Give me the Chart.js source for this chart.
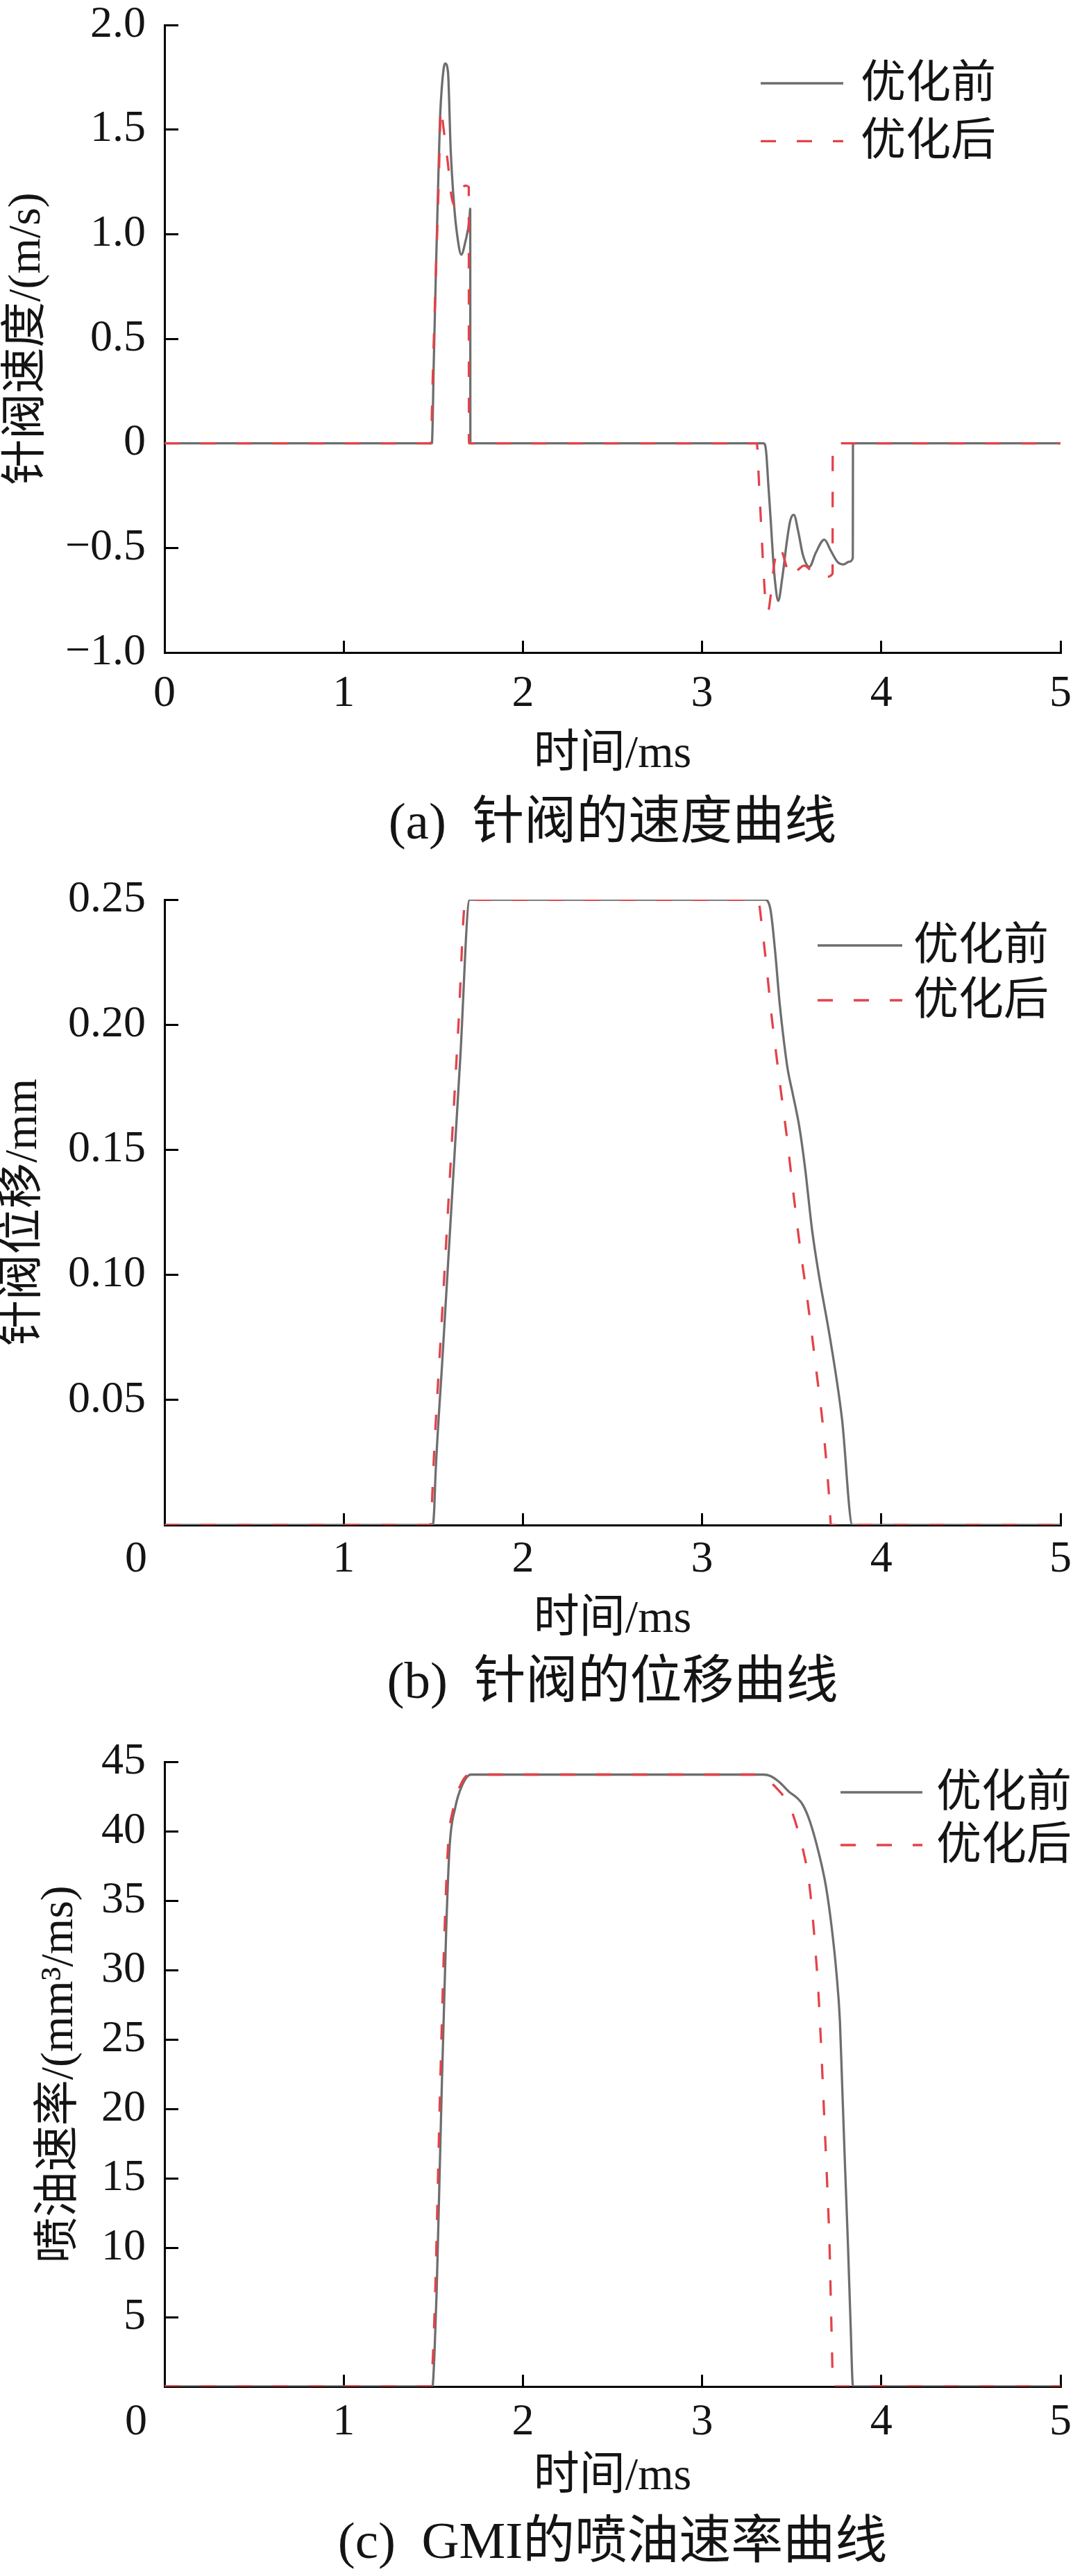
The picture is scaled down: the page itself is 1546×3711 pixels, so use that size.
<!DOCTYPE html>
<html lang="zh-CN">
<head>
<meta charset="utf-8">
<title>针阀速度、位移与喷油速率曲线</title>
<script src="https://cdn.jsdelivr.net/npm/chart.js@4.4.1/dist/chart.umd.min.js"></script>
<style>
  html, body { margin: 0; padding: 0; background: #fff; }
  .panel { position: absolute; left: 0; width: 1546px; }
  #panelA { top: 0; height: 1240px; }
  #panelB { top: 1240px; height: 1235px; }
  #panelC { top: 2475px; height: 1236px; }
</style>
</head>
<body>
<div class="panel" id="panelA"><canvas id="speedChart"></canvas></div>
<div class="panel" id="panelB"><canvas id="liftChart"></canvas></div>
<div class="panel" id="panelC"><canvas id="rateChart"></canvas></div>

<script>
// Series names (legend)
const seriesNames = ['优化前', '优化后'];

// Shared time axis (ms)
const timeTickValues = [0, 1, 2, 3, 4, 5];
const timeTickLabels = ['0', '1', '2', '3', '4', '5'];
const timeTickLabelsNoOrigin = ['', '1', '2', '3', '4', '5'];

// (a) needle valve speed, m/s
const speedTickValues = [-1, -0.5, 0, 0.5, 1, 1.5, 2];
const speedTickLabels = ['\u22121.0', '\u22120.5', '0', '0.5', '1.0', '1.5', '2.0'];
const speedTimeBefore = [0, 1.492, 1.503, 1.514, 1.526, 1.537, 1.552, 1.566, 1.582, 1.597, 1.617, 1.634, 1.656, 1.679, 1.702, 1.706, 1.707,
  3.344, 3.357, 3.370, 3.383, 3.395, 3.408, 3.425, 3.447, 3.473, 3.492, 3.512, 3.537, 3.563, 3.599, 3.634, 3.682, 3.718, 3.757, 3.789, 3.821, 3.841, 3.842, 5];
const speedBefore = [0, 0, 0.40, 0.80, 1.20, 1.54, 1.747, 1.816, 1.775, 1.404, 1.129, 0.991, 0.902, 0.964, 1.074, 1.122, 0,
  0, -0.037, -0.203, -0.369, -0.535, -0.668, -0.753, -0.646, -0.469, -0.369, -0.342, -0.424, -0.535, -0.590, -0.524, -0.460, -0.513, -0.568, -0.579, -0.566, -0.548, 0, 0];
const speedTimeAfter = [0, 1.485, 1.500, 1.515, 1.530, 1.543, 1.556, 1.582, 1.601, 1.621, 1.653, 1.679, 1.698, 1.699,
  3.305, 3.318, 3.330, 3.342, 3.354, 3.367, 3.385, 3.402, 3.428, 3.453, 3.473, 3.499, 3.535, 3.570, 3.610, 3.654, 3.695, 3.728, 3.729, 5];
const speedAfter = [0, 0, 0.41, 0.83, 1.24, 1.603, 1.514, 1.335, 1.184, 1.136, 1.204, 1.232, 1.225, 0,
  0, -0.20, -0.40, -0.60, -0.756, -0.806, -0.712, -0.579, -0.491, -0.535, -0.596, -0.640, -0.605, -0.585, -0.610, -0.640, -0.638, -0.623, 0, 0];

// (b) needle valve lift, mm
const liftTickValues = [0, 0.05, 0.10, 0.15, 0.20, 0.25];
const liftTickLabels = ['', '0.05', '0.10', '0.15', '0.20', '0.25'];
const liftTimeBefore = [0, 1.497, 1.505, 1.512, 1.55, 1.60, 1.65, 1.703,
  3.349, 3.381, 3.407, 3.433, 3.459, 3.478, 3.504, 3.543, 3.575, 3.614, 3.652, 3.717, 3.781, 3.839, 5];
const liftBefore = [0, 0, 0.006, 0.0195, 0.0654, 0.1258, 0.186, 0.25,
  0.25, 0.2462, 0.2297, 0.2084, 0.1919, 0.182, 0.173, 0.159, 0.1425, 0.1178, 0.0998, 0.0734, 0.0422, 0, 0];
const liftTimeAfter = [0, 1.483, 1.492, 1.500, 1.55, 1.60, 1.64, 1.680,
  3.311, 3.336, 3.362, 3.388, 3.413, 3.439, 3.472, 3.504, 3.543, 3.588, 3.640, 3.678, 3.711, 3.719, 5];
const liftAfter = [0, 0, 0.008, 0.022, 0.0853, 0.1487, 0.1993, 0.25,
  0.25, 0.238, 0.2215, 0.2034, 0.1886, 0.1738, 0.1557, 0.136, 0.113, 0.0899, 0.0602, 0.0372, 0.0092, 0, 0];

// (c) GMI injection rate, mm³/ms
const rateTickValues = [0, 5, 10, 15, 20, 25, 30, 35, 40, 45];
const rateTickLabels = ['', '5', '10', '15', '20', '25', '30', '35', '40', '45'];
const rateTimeBefore = [0, 1.495, 1.507, 1.519, 1.546, 1.572, 1.591, 1.622, 1.66, 1.71,
  3.343, 3.381, 3.433, 3.485, 3.530, 3.562, 3.601, 3.652, 3.691, 3.723, 3.749, 3.769, 3.781, 3.797, 3.814, 3.829, 3.842, 5];
const rateBefore = [0, 0, 2.5, 6.96, 20.9, 32.9, 38.9, 41.7, 43.3, 44.1,
  44.1, 44.0, 43.54, 42.86, 42.42, 41.92, 40.75, 38.4, 36.05, 33.1, 29.9, 26.35, 21.95, 16.07, 10.2, 4.32, 0, 0];
const rateTimeAfter = [0, 1.487, 1.499, 1.511, 1.537, 1.563, 1.582, 1.612, 1.65, 1.70,
  3.33, 3.36, 3.407, 3.472, 3.504, 3.536, 3.568, 3.594, 3.614, 3.633, 3.649, 3.665, 3.681, 3.698, 3.711, 3.719, 3.727, 3.729, 5];
const rateAfter = [0, 0, 2.5, 6.96, 20.9, 32.9, 38.9, 41.7, 43.3, 44.1,
  44.1, 43.8, 43.24, 42.21, 41.33, 40.01, 38.4, 36.64, 34.28, 31.35, 28.41, 24.3, 19.6, 14.6, 10.2, 5.79, 1.39, 0, 0];

// Look and feel
const FONT = '"Liberation Serif", "Noto Sans CJK SC", serif';
const TEXT = '#141414';
const GRAY = '#6e6e6e';
const RED = '#e2434a';

const toPoints = (xs, ys) => xs.map((x, i) => ({ x: x, y: ys[i] }));

// Legend (line sample + name) inside the plot, plus the lone "0" under the corner
const panelDecor = {
  id: 'panelDecor',
  afterDraw(chart, args, opts) {
    const { ctx, chartArea } = chart;
    ctx.save();
    chart.data.datasets.forEach((ds, i) => {
      const y = chartArea.top + opts.keyTop + i * opts.keyGap;
      const x0 = chartArea.right - opts.keyRight;
      ctx.strokeStyle = ds.borderColor;
      ctx.lineWidth = ds.borderWidth;
      ctx.setLineDash(ds.borderDash || []);
      ctx.beginPath();
      ctx.moveTo(x0, y);
      ctx.lineTo(x0 + opts.keyLength, y);
      ctx.stroke();
      ctx.setLineDash([]);
      ctx.fillStyle = TEXT;
      ctx.font = '65px ' + FONT;
      ctx.textAlign = 'left';
      ctx.textBaseline = 'middle';
      ctx.fillText(ds.label, x0 + opts.keyLength + opts.keyTextGap, y + 3);
    });
    if (opts.originLabel) {
      ctx.fillStyle = TEXT;
      ctx.font = '64px ' + FONT;
      ctx.textAlign = 'center';
      ctx.textBaseline = 'middle';
      ctx.fillText(opts.originLabel, chart.scales.x.getPixelForValue(0) + opts.originDx, chartArea.bottom + opts.originDy);
    }
    ctx.restore();
  }
};

function makePanel(canvasId, p) {
  return new Chart(document.getElementById(canvasId), {
    type: 'line',
    data: {
      datasets: [
        {
          label: seriesNames[0],
          data: toPoints(p.timeBefore, p.before),
          borderColor: GRAY,
          borderWidth: 3.3,
          pointRadius: 0,
          cubicInterpolationMode: 'monotone',
          order: 1
        },
        {
          label: seriesNames[1],
          data: toPoints(p.timeAfter, p.after),
          borderColor: RED,
          borderWidth: 3.3,
          borderDash: [22, 30],
          pointRadius: 0,
          cubicInterpolationMode: 'monotone',
          order: 0
        }
      ]
    },
    options: {
      responsive: true,
      maintainAspectRatio: false,
      animation: false,
      devicePixelRatio: 1,
      events: [],
      layout: { padding: { top: p.padTop, right: 18, bottom: 0, left: 0 } },
      scales: {
        x: {
          type: 'linear',
          min: 0,
          max: 5,
          afterBuildTicks: axis => { axis.ticks = timeTickValues.map(v => ({ value: v })); },
          // fixed height; label overflow only needs half a digit on the right
          afterFit: axis => { axis.height = p.xAxisHeight; axis.paddingLeft = 0; axis.paddingRight = 18; },
          ticks: {
            autoSkip: false,
            maxRotation: 0,
            minRotation: 0,
            padding: p.xTickPad,
            color: TEXT,
            font: { family: FONT, size: 64, lineHeight: 1 },
            callback: (value, index) => p.xLabels[index]
          },
          grid: { drawOnChartArea: false, drawTicks: true, tickLength: -17, tickWidth: 3, tickColor: '#000' },
          border: { display: true, color: '#000', width: 3 },
          title: {
            display: true,
            text: '时间/ms',
            color: TEXT,
            font: { family: FONT, size: 66, lineHeight: 1 },
            padding: { top: 0, bottom: p.xTitlePad }
          }
        },
        y: {
          type: 'linear',
          min: p.yMin,
          max: p.yMax,
          afterBuildTicks: axis => { axis.ticks = p.yTicks.map(v => ({ value: v })); },
          afterFit: axis => { axis.width = 237; axis.paddingTop = 0; axis.paddingBottom = 0; },
          ticks: {
            autoSkip: false,
            padding: 47,
            color: TEXT,
            font: { family: FONT, size: 64, lineHeight: 1 },
            callback: (value, index) => p.yLabels[index]
          },
          grid: { drawOnChartArea: false, drawTicks: true, tickLength: -20, tickWidth: 3, tickColor: '#000' },
          border: { display: true, color: '#000', width: 3 },
          title: {
            display: true,
            text: p.yTitle,
            color: TEXT,
            font: { family: FONT, size: 66, lineHeight: 1 },
            padding: { top: p.yTitlePad, bottom: 0 }
          }
        }
      },
      plugins: {
        legend: { display: false },
        tooltip: { enabled: false },
        title: {
          display: true,
          text: p.caption,
          position: 'bottom',
          fullSize: false,
          color: TEXT,
          font: { family: FONT, size: 75, lineHeight: 1, weight: 'normal' },
          padding: { top: 0, bottom: p.captionPad }
        },
        panelDecor: p.decor
      }
    },
    plugins: [panelDecor]
  });
}

document.addEventListener('DOMContentLoaded', function() {
  // (a) speed
  makePanel('speedChart', {
    timeBefore: speedTimeBefore, before: speedBefore,
    timeAfter: speedTimeAfter, after: speedAfter,
    yMin: -1, yMax: 2, yTicks: speedTickValues, yLabels: speedTickLabels,
    xLabels: timeTickLabels,
    yTitle: '针阀速度/(m/s)',
    caption: '(a)  针阀的速度曲线',
    padTop: 36, xAxisHeight: 210.5, xTickPad: 45.5, xTitlePad: 29.5, captionPad: 14.5, yTitlePad: 7,
    decor: { keyTop: 84, keyGap: 83.4, keyRight: 432, keyLength: 119, keyTextGap: 25 }
  });

  // (b) lift
  makePanel('liftChart', {
    timeBefore: liftTimeBefore, before: liftBefore,
    timeAfter: liftTimeAfter, after: liftAfter,
    yMin: 0, yMax: 0.25, yTicks: liftTickValues, yLabels: liftTickLabels,
    xLabels: timeTickLabelsNoOrigin,
    yTitle: '针阀位移/mm',
    caption: '(b)  针阀的位移曲线',
    padTop: 56, xAxisHeight: 191.5, xTickPad: 35.5, xTitlePad: 21.5, captionPad: 11.5, yTitlePad: 2,
    decor: { keyTop: 66, keyGap: 79, keyRight: 350, keyLength: 122, keyTextGap: 16,
             originLabel: '0', originDx: -41, originDy: 50.5 }
  });

  // (c) injection rate
  makePanel('rateChart', {
    timeBefore: rateTimeBefore, before: rateBefore,
    timeAfter: rateTimeAfter, after: rateAfter,
    yMin: 0, yMax: 45, yTicks: rateTickValues, yLabels: rateTickLabels,
    xLabels: timeTickLabelsNoOrigin,
    yTitle: '喷油速率/(mm\u00B3/ms)',
    caption: '(c)  GMI的喷油速率曲线',
    padTop: 63.5, xAxisHeight: 189.5, xTickPad: 37, xTitlePad: 25.5, captionPad: 8.5, yTitlePad: 54,
    decor: { keyTop: 43.5, keyGap: 76, keyRight: 317, keyLength: 118, keyTextGap: 20,
             originLabel: '0', originDx: -41, originDy: 52 }
  });
});
</script>
</body>
</html>
